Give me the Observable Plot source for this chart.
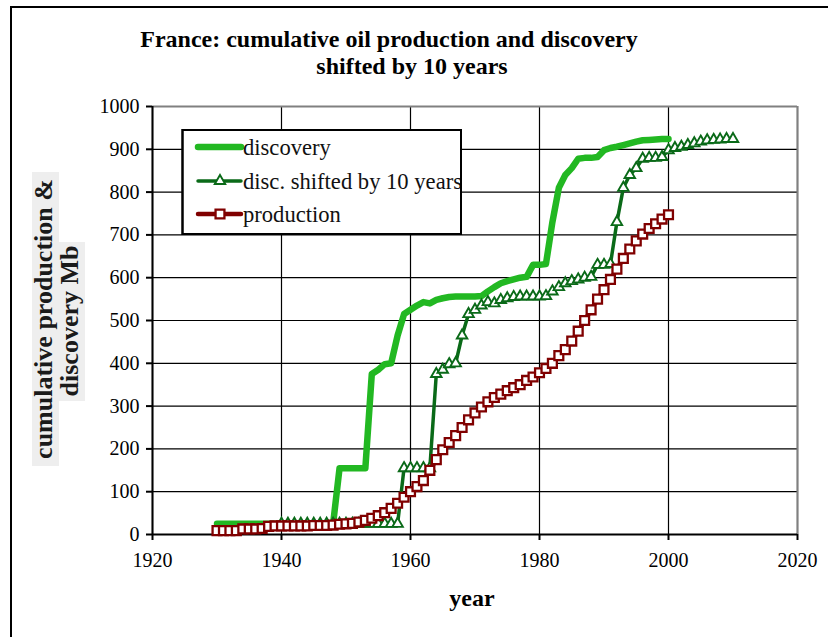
<!DOCTYPE html>
<html>
<head>
<meta charset="utf-8">
<script src="https://cdn.jsdelivr.net/npm/d3@7"></script>
<script src="https://cdn.jsdelivr.net/npm/@observablehq/plot@0.6"></script>
<style>
  html, body { margin: 0; padding: 0; background: #fff; overflow: hidden; }
  #wrap { position: relative; width: 828px; height: 637px; overflow: hidden; background: #fff;
          font-family: "Liberation Serif", "Times New Roman", serif; }
  #outer { position: absolute; left: 10px; top: 6px; width: 900px; height: 700px;
           border: 2px solid #000; box-sizing: border-box; }
  #plot { position: absolute; left: 0; top: 0; }
  #overlay { position: absolute; left: 0; top: 0; pointer-events: none; }
</style>
</head>
<body>
<div id="wrap">
  <div id="outer"></div>
  <div id="plot"></div>
  <svg id="overlay" width="828" height="637"></svg>
</div>
<script>
// ---------------- data ----------------
const titleLines = ["France: cumulative oil production and discovery", "shifted by 10 years"];
const xLabel = "year";
const yLabelLines = ["cumulative production &", "discovery Mb"];
const seriesNames = ["discovery", "disc. shifted by 10 years", "production"];

const xDomain = [1920, 2020];
const yDomain = [0, 1000];
const xTicks = [1920, 1940, 1960, 1980, 2000, 2020];
const yTicks = [0, 100, 200, 300, 400, 500, 600, 700, 800, 900, 1000];

// discovery, 1930..2000 (Mb, cumulative)
const discoveryStart = 1930;
const discoveryValues = [
  25, 25, 25, 25, 25, 25, 25, 25, 25, 25,          // 1930-1939
  25, 25, 25, 25, 25, 25, 25, 25, 25, 155,         // 1940-1949
  155, 155, 155, 155, 375, 385, 398, 400, 465, 515,// 1950-1959
  525, 535, 543, 540, 548, 552, 555, 556, 556, 556,// 1960-1969
  556, 557, 568, 578, 587, 592, 596, 600, 602, 630,// 1970-1979
  630, 632, 730, 810, 840, 856, 878, 880, 880, 882,// 1980-1989
  898, 903, 906, 910, 914, 918, 921, 922, 923, 924,// 1990-1999
  924                                              // 2000
];

// discovery shifted by 10 years, 1940..2010
const shiftedStart = 1940;
const shiftedValues = [
  25, 25, 25, 25, 25, 25, 25, 25, 25, 25,          // 1940-1949
  25, 25, 25, 25, 25, 25, 25, 25, 25, 155,         // 1950-1959
  155, 155, 155, 155, 375, 385, 398, 400, 465, 515,// 1960-1969
  525, 535, 543, 540, 548, 552, 555, 556, 556, 556,// 1970-1979
  556, 557, 568, 578, 587, 592, 596, 600, 602, 630,// 1980-1989
  630, 632, 730, 810, 840, 856, 878, 880, 880, 882,// 1990-1999
  898, 903, 906, 910, 914, 918, 921, 922, 923, 924,// 2000-2009
  924                                              // 2010
];

// cumulative production, 1930..2000
const productionStart = 1930;
const productionValues = [
  9, 9, 9, 9, 13, 13, 13, 14, 19, 20,              // 1930-1939
  20, 20, 20, 20, 20, 21, 21, 21, 22, 24,          // 1940-1949
  25, 26, 29, 33, 38, 44, 51, 61, 73, 87,          // 1950-1959
  100, 112, 126, 150, 175, 198, 215, 231, 250, 268,// 1960-1969
  284, 298, 310, 320, 328, 336, 343, 350, 360, 368,// 1970-1979
  378, 388, 400, 418, 432, 452, 475, 500, 525, 550,// 1980-1989
  572, 596, 620, 645, 667, 686, 702, 715, 726, 737,// 1990-1999
  747                                              // 2000
];

// ---------------- styles ----------------
const colDisc = "#22b822";
const colShift = "#0a6a18";
const colProd = "#800000";

const toRows = (start, vals) => vals.map((v, i) => ({year: start + i, value: v}));
const disc = toRows(discoveryStart, discoveryValues);
const shifted = toRows(shiftedStart, shiftedValues);
const prod = toRows(productionStart, productionValues);

const fmt = d => String(d);

const chart = Plot.plot({
  width: 828,
  height: 637,
  marginLeft: 152,
  marginRight: 31,
  marginTop: 106,
  marginBottom: 103,
  style: {
    fontFamily: '"Liberation Serif", "Times New Roman", serif',
    fontSize: "20px",
    color: "#000",
    background: "transparent",
    overflow: "visible"
  },
  x: {domain: xDomain, label: null},
  y: {domain: yDomain, label: null},
  marks: [
    Plot.gridY(yTicks, {stroke: "#000", strokeOpacity: 1, strokeWidth: 1.2}),
    Plot.gridX(xTicks, {stroke: "#000", strokeOpacity: 1, strokeWidth: 1.2}),
    Plot.ruleY([yDomain[1]], {stroke: "#808080", strokeWidth: 2}),
    Plot.ruleX([xDomain[1]], {stroke: "#808080", strokeWidth: 2}),
    Plot.ruleY([yDomain[0]], {stroke: "#000", strokeWidth: 2}),
    Plot.ruleX([xDomain[0]], {stroke: "#000", strokeWidth: 2}),
    Plot.axisY(yTicks, {tickSize: 6, tickPadding: 7, strokeWidth: 2, fontSize: 20, tickFormat: fmt, label: null}),
    Plot.axisX(xTicks, {tickSize: 6, tickPadding: 12, strokeWidth: 2, fontSize: 20, tickFormat: fmt, label: null}),
    Plot.line(disc, {x: "year", y: "value", stroke: colDisc, strokeWidth: 6.5, strokeLinejoin: "round", strokeLinecap: "round"}),
    Plot.line(shifted, {x: "year", y: "value", stroke: colShift, strokeWidth: 3.5, strokeLinejoin: "round"}),
    Plot.dot(shifted, {x: "year", y: "value", symbol: "triangle", r: 3.9, fill: "white", stroke: colShift, strokeWidth: 1.9}),
    Plot.line(prod, {x: "year", y: "value", stroke: colProd, strokeWidth: 4.5, strokeLinejoin: "round"}),
    Plot.dot(prod, {x: "year", y: "value", symbol: "square", r: 5, fill: "white", stroke: colProd, strokeWidth: 2.3})
  ]
});
document.getElementById("plot").appendChild(chart);

// ---------------- overlay: title, axis titles, legend ----------------
const ov = d3.select("#overlay");
const serif = '"Liberation Serif", "Times New Roman", serif';

// title
ov.append("text").attr("x", 389).attr("y", 47).attr("text-anchor", "middle")
  .attr("font-family", serif).attr("font-weight", "bold").attr("font-size", 24).attr("fill", "#000")
  .text(titleLines[0]);
ov.append("text").attr("x", 412).attr("y", 74).attr("text-anchor", "middle")
  .attr("font-family", serif).attr("font-weight", "bold").attr("font-size", 24).attr("fill", "#000")
  .text(titleLines[1]);

// x axis title
ov.append("text").attr("x", 472).attr("y", 606).attr("text-anchor", "middle")
  .attr("font-family", serif).attr("font-weight", "bold").attr("font-size", 24).attr("fill", "#000")
  .text(xLabel);

// y axis title (two rotated lines on light grey boxes)
ov.append("rect").attr("x", 32).attr("y", 172).attr("width", 27).attr("height", 294).attr("fill", "#eeeeee");
ov.append("rect").attr("x", 59).attr("y", 242).attr("width", 26).attr("height", 159).attr("fill", "#eeeeee");
ov.append("text").attr("transform", "translate(52,319) rotate(-90)").attr("text-anchor", "middle")
  .attr("font-family", serif).attr("font-weight", "bold").attr("font-size", 26).attr("fill", "#1a1a1a")
  .text(yLabelLines[0]);
ov.append("text").attr("transform", "translate(78,321) rotate(-90)").attr("text-anchor", "middle")
  .attr("font-family", serif).attr("font-weight", "bold").attr("font-size", 26).attr("fill", "#1a1a1a")
  .text(yLabelLines[1]);

// legend
const lg = {x: 182.5, y: 130, w: 278.5, h: 104};
ov.append("defs").append("clipPath").attr("id", "lgclip")
  .append("rect").attr("x", lg.x).attr("y", lg.y).attr("width", lg.w - 1).attr("height", lg.h);
ov.append("rect").attr("x", lg.x).attr("y", lg.y).attr("width", lg.w).attr("height", lg.h)
  .attr("fill", "#fff").attr("stroke", "#000").attr("stroke-width", 2);
const rowsY = [147, 181, 214];
const swatch = [
  {color: colDisc, w: 6.5, sym: null},
  {color: colShift, w: 3.5, sym: d3.symbolTriangle, r: 3.9, sw: 1.9},
  {color: colProd, w: 4.5, sym: d3.symbolSquare, r: 5, sw: 2.3}
];
const lgG = ov.append("g").attr("clip-path", "url(#lgclip)");
seriesNames.forEach((name, i) => {
  const y = rowsY[i], s = swatch[i];
  lgG.append("line").attr("x1", 198).attr("x2", 241).attr("y1", y).attr("y2", y)
    .attr("stroke", s.color).attr("stroke-width", s.w).attr("stroke-linecap", "round");
  if (s.sym) {
    lgG.append("path").attr("d", d3.symbol(s.sym, Math.PI * s.r * s.r)())
      .attr("transform", `translate(220,${y})`).attr("fill", "#fff")
      .attr("stroke", s.color).attr("stroke-width", s.sw);
  }
  lgG.append("text").attr("x", 243).attr("y", y + 7.5)
    .attr("font-family", serif).attr("font-size", 22.6).attr("fill", "#111")
    .text(name);
});
// legend border drawn on top of clipped text
ov.append("rect").attr("x", lg.x).attr("y", lg.y).attr("width", lg.w).attr("height", lg.h)
  .attr("fill", "none").attr("stroke", "#000").attr("stroke-width", 2);
</script>
</body>
</html>
